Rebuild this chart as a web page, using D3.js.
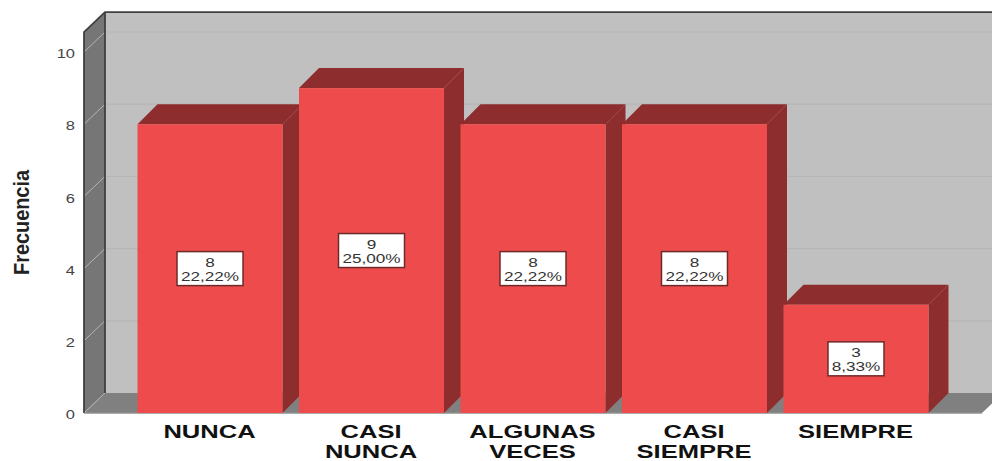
<!DOCTYPE html>
<html>
<head>
<meta charset="utf-8">
<script src="https://cdn.jsdelivr.net/npm/d3@7/dist/d3.min.js"></script>
<style>
  html, body { margin: 0; padding: 0; background: #fff; }
  svg { display: block; }
  text { font-family: "Liberation Sans", Arial, sans-serif; }
</style>
</head>
<body>
<div id="chart"></div>
<script>
// Frequency of answers per response category
const categories = ["NUNCA", "CASI NUNCA", "ALGUNAS VECES", "CASI SIEMPRE", "SIEMPRE"];
const frequencies = [8, 9, 8, 8, 3];
const percentLabels = ["22,22%", "25,00%", "22,22%", "22,22%", "8,33%"];
const yTicks = [0, 2, 4, 6, 8, 10];
const yTitle = "Frecuencia";

const width = 992, height = 461;
const depthX = 21, depthY = 20;        // offset of the back wall from the front plane
const barDepthX = 20, barDepthY = 20;  // offset of a bar's rear face
const stretch = 1.32;                  // horizontal widening of the small lettering

const colors = {
  wall: "#c0c0c0", grid: "#b6b6b6", side: "#767676", floor: "#808080",
  edge: "#404040", sideGrid: "#b5b5b5", front: "#ee4c4c", shade: "#8e2d2d"
};

const svg = d3.select("#chart").append("svg")
  .attr("width", width).attr("height", height);

const y = d3.scaleLinear().domain([0, 10]).range([413, 52]);
const x = d3.scaleBand().domain(categories).range([137.5, 928.5]).paddingInner(0.102).paddingOuter(0);

const boxLeft = 84, boxRight = 982, topValue = 10.55;
const baseY = y(0), topY = y(topValue);
const poly = pts => pts.map(p => p.join(",")).join(" ");

// Back wall, floor and left wall of the 3D box
svg.append("polygon").attr("fill", colors.wall)
  .attr("points", poly([[boxLeft + depthX, topY - depthY], [width, topY - depthY], [width, baseY - depthY], [boxLeft + depthX, baseY - depthY]]));

svg.append("g").selectAll("line").data(yTicks.filter(d => d > 0)).join("line")
  .attr("x1", boxLeft + depthX).attr("x2", width)
  .attr("y1", d => y(d) - depthY).attr("y2", d => y(d) - depthY)
  .attr("stroke", colors.grid).attr("stroke-width", 1.2);

svg.append("polygon").attr("fill", colors.floor)
  .attr("points", poly([[boxLeft, baseY], [boxRight, baseY], [boxRight + depthX, baseY - depthY], [boxLeft + depthX, baseY - depthY]]));

svg.append("polygon").attr("fill", colors.side)
  .attr("points", poly([[boxLeft, topY], [boxLeft + depthX, topY - depthY], [boxLeft + depthX, baseY - depthY], [boxLeft, baseY]]));

svg.append("g").selectAll("line").data(yTicks).join("line")
  .attr("x1", boxLeft).attr("x2", boxLeft + depthX)
  .attr("y1", d => y(d)).attr("y2", d => y(d) - depthY)
  .attr("stroke", colors.sideGrid).attr("stroke-width", 1);

// Box outlines
svg.append("path").attr("fill", "none").attr("stroke", colors.edge).attr("stroke-width", 1.8)
  .attr("d", `M${boxLeft},${baseY}V${topY}L${boxLeft + depthX},${topY - depthY}H${width}M${boxLeft + depthX},${topY - depthY}V${baseY - depthY}`);
svg.append("line").attr("x1", boxLeft).attr("x2", boxRight).attr("y1", baseY).attr("y2", baseY)
  .attr("stroke", "#8f8f8f").attr("stroke-width", 1.5);

// Bars, drawn left to right so each front face covers its neighbour's side
const bars = svg.append("g").selectAll("g").data(categories).join("g");
bars.each(function (c, i) {
  const g = d3.select(this);
  const x0 = x(c), x1 = x0 + x.bandwidth(), yT = y(frequencies[i]);
  g.append("polygon").attr("fill", colors.shade)
    .attr("points", poly([[x0, yT], [x0 + barDepthX, yT - barDepthY], [x1 + barDepthX, yT - barDepthY], [x1, yT]]));
  g.append("polygon").attr("fill", colors.shade)
    .attr("points", poly([[x1, yT], [x1 + barDepthX, yT - barDepthY], [x1 + barDepthX, baseY - barDepthY], [x1, baseY]]));
  g.append("rect").attr("x", x0).attr("y", yT).attr("width", x.bandwidth()).attr("height", baseY - yT)
    .attr("fill", colors.front);
});

// Value boxes in the middle of each bar
const labels = svg.append("g").selectAll("g").data(categories).join("g")
  .attr("transform", (c, i) => `translate(${x(c) + x.bandwidth() / 2},${(y(frequencies[i]) + baseY) / 2})`);
labels.append("rect")
  .attr("x", (c, i) => percentLabels[i].length > 5 ? -33 : -28)
  .attr("width", (c, i) => percentLabels[i].length > 5 ? 66 : 56)
  .attr("y", -17).attr("height", 34)
  .attr("fill", "#fff").attr("stroke", "#6e2a2a").attr("stroke-width", 1.5);
labels.append("text").attr("text-anchor", "middle").attr("font-size", 13).attr("fill", "#333")
  .attr("transform", `translate(0,-2) scale(${stretch},1)`)
  .text((c, i) => frequencies[i]);
labels.append("text").attr("text-anchor", "middle").attr("font-size", 13).attr("fill", "#333")
  .attr("transform", `translate(0,12) scale(${stretch},1)`)
  .text((c, i) => percentLabels[i]);

// Value axis
const axis = svg.append("g").attr("transform", "translate(75,0)")
  .call(d3.axisLeft(y).tickValues(yTicks).tickSize(0).tickPadding(0).tickFormat(d3.format("d")));
axis.select(".domain").remove();
axis.selectAll(".tick text")
  .attr("font-size", 13.5).attr("font-family", "Liberation Sans").attr("fill", "#444")
  .attr("x", 0).attr("dy", "0.42em")
  .attr("transform", `scale(${stretch - 0.1},1)`);

svg.append("text").attr("text-anchor", "middle").attr("font-size", 17).attr("font-weight", "bold").attr("fill", "#222")
  .attr("transform", "translate(29,222.5) scale(1.32,1) rotate(-90) scale(1.17,1)")
  .text(yTitle);

// Category labels, wrapped on spaces
const catLabels = svg.append("g").selectAll("text").data(categories).join("text")
  .attr("text-anchor", "middle").attr("font-size", 18).attr("font-weight", "bold").attr("fill", "#111")
  .attr("transform", c => `translate(${x(c) + x.bandwidth() / 2 - 0.5},438) scale(1.42,1)`);
catLabels.selectAll("tspan").data(c => c.split(" ")).join("tspan")
  .attr("x", 0).attr("y", (d, i) => i * 20).text(d => d);
</script>
</body>
</html>
